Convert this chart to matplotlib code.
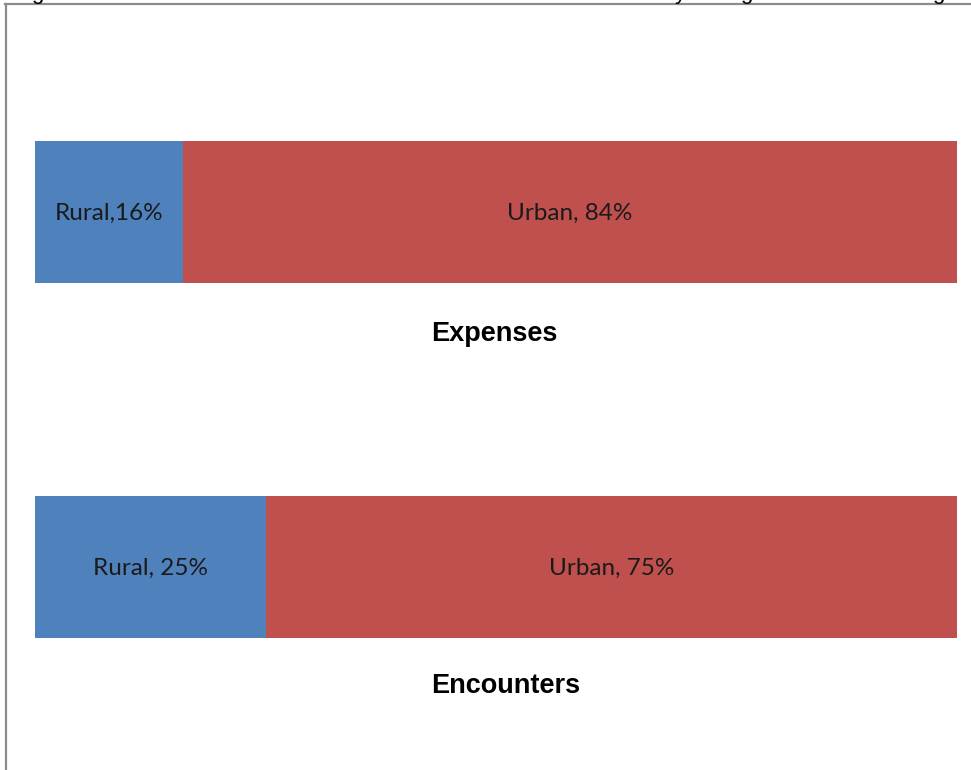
import matplotlib
matplotlib.use("Agg")
import matplotlib.pyplot as plt
from matplotlib.lines import Line2D

# data
categories = ["Expenses", "Encounters"]
rural = [16, 25]
urban = [84, 75]
rural_labels = ["Rural,16%", "Rural, 25%"]
urban_labels = ["Urban, 84%", "Urban, 75%"]

blue = "#4F81BD"
red = "#C0504D"

W, H = 971, 770
fig = plt.figure(figsize=(W / 100, H / 100), dpi=100)
fig.patch.set_facecolor("white")

# axes placed so bars land where the reference has them
ax = fig.add_axes([35 / W, (H - 638) / H, (957 - 35) / W, (638 - 141) / H])
ax.set_xlim(0, 100)
ax.set_ylim(1.2, -0.2)
ax.axis("off")

ypos = list(range(len(categories)))
ax.barh(ypos, rural, height=0.4, color=blue, linewidth=0)
ax.barh(ypos, urban, left=rural, height=0.4, color=red, linewidth=0)

lab_font = dict(family=["Lato", "DejaVu Sans"], fontsize=17.5, color="#1a1a1a")
for i, cat in enumerate(categories):
    ax.text(rural[i] / 2, i + 0.004, rural_labels[i], ha="center", va="center", **lab_font)
    ax.text(rural[i] + urban[i] / 2, i + 0.004, urban_labels[i], ha="center", va="center", **lab_font)
    # category names share a left edge in the reference
    ax.text(43.0, i + 0.345 - 0.01 * i, cat, ha="left", va="center",
            family=["Liberation Sans", "DejaVu Sans"], fontsize=19.5, fontweight="bold",
            color="black", clip_on=False)

# frame lines of the embedded chart
border = "#8c8c8c"
fig.add_artist(Line2D([5.5 / W, 5.5 / W], [0, (H - 4) / H], color=border, lw=1.6,
                      transform=fig.transFigure))
fig.add_artist(Line2D([5 / W, 1], [(H - 4) / H, (H - 4) / H], color=border, lw=1.6,
                      transform=fig.transFigure))

# cut-off caption above the chart, only the descenders remain visible
for ch, px in [("g", 37), ("y", 680), ("g", 746), ("g", 938)]:
    fig.text(px / W, 1 + 1.5 / H, ch, ha="center", va="baseline",
             family=["Liberation Sans", "DejaVu Sans"], fontsize=16, color="black")

fig.savefig("out.png", dpi=100, facecolor="white")
